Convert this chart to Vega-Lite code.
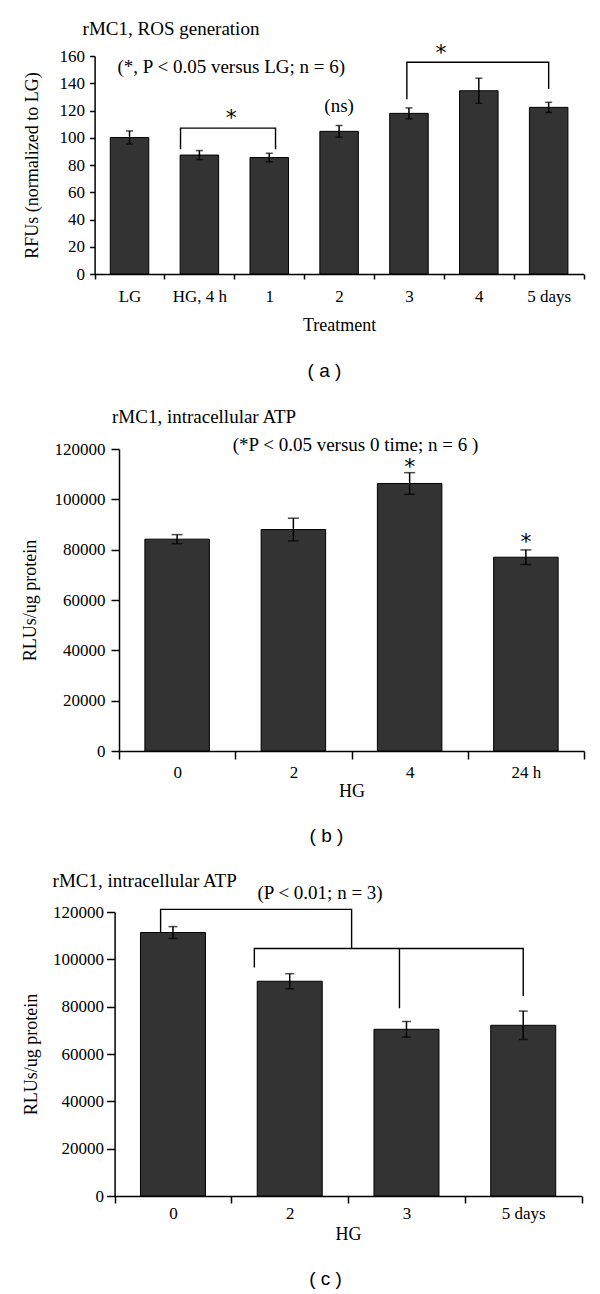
{
  "$schema": "https://vega.github.io/schema/vega-lite/v6.json",
  "padding": {"left": 21, "top": 20, "right": 5, "bottom": 5},
  "columns": 1,
  "spacing": 26,
  "resolve": {"scale": {"xOffset": "independent", "x": "independent", "y": "independent"}},
  "config": {
    "font": "Liberation Serif",
    "view": {"stroke": null},
    "axis": {"domainColor": "black", "tickColor": "black", "labelColor": "black", "titleColor": "black", "labelFont": "Liberation Serif", "titleFont": "Liberation Serif", "labelFontSize": 17, "titleFontSize": 18, "titleFontWeight": "normal", "grid": false, "domainWidth": 1.5, "tickWidth": 1.5, "labelOverlap": false, "labelSeparation": 0},
    "axisY": {"labelOverlap": false},
    "axisQuantitative": {"labelOverlap": false},
    "title": {"font": "Liberation Sans", "fontSize": 19, "fontWeight": "normal", "color": "black", "orient": "bottom", "offset": 31},
    "text": {"font": "Liberation Serif", "fontSize": 19, "color": "black"}
  },
  "concat": [
    {
      "width": 465, "height": 218,
      "title": {"text": "( a )", "dx": -27, "offset": 28},
      "layer": [
        {
          "data": {"values": [
            {"t": "LG", "m": 100.2, "e": 4.8},
            {"t": "HG, 4 h", "m": 87.3, "e": 3.3},
            {"t": "1", "m": 85.5, "e": 3.1},
            {"t": "2", "m": 104.7, "e": 4.3},
            {"t": "3", "m": 117.9, "e": 4.0},
            {"t": "4", "m": 134.5, "e": 9.2},
            {"t": "5 days", "m": 122.3, "e": 3.7}
          ]},
          "layer": [
            {
              "mark": {"type": "bar", "width": 38.5, "fill": "#333333", "stroke": "#000000", "strokeWidth": 1},
              "encoding": {
                "x": {"field": "t", "type": "nominal", "title": "Treatment",
                  "scale": {"domain": ["LG", "HG, 4 h", "1", "2", "3", "4", "5 days"], "range": [-24.4, 464.6], "paddingInner": 0, "paddingOuter": 0},
                  "axis": {"labelAngle": 0, "tickBand": "extent", "tickSize": 5, "labelPadding": 9, "titlePadding": 12}},
                "y": {"field": "m", "type": "quantitative", "title": "RFUs (normalized to LG)",
                  "scale": {"domain": [0, 160], "nice": false},
                  "axis": {"tickCount": 9, "values": [0, 20, 40, 60, 80, 100, 120, 140, 160], "labelOverlap": false, "labelSeparation": 0, "offset": 24.4, "tickSize": 5, "labelPadding": 5, "titlePadding": 18}}
              }
            },
            {
              "mark": {"type": "errorbar", "color": "black", "thickness": 1.5, "ticks": {"size": 7, "thickness": 1.5, "color": "black"}},
              "encoding": {
                "x": {"field": "t", "type": "nominal", "title": "Treatment"},
                "y": {"field": "m", "type": "quantitative", "title": "RFUs (normalized to LG)",
                  "axis": {"tickCount": 9, "values": [0, 20, 40, 60, 80, 100, 120, 140, 160], "labelOverlap": false, "labelSeparation": 0, "offset": 24.4, "tickSize": 5, "labelPadding": 5, "titlePadding": 18}},
                "yError": {"field": "e"}
              }
            }
          ]
        },
        {
          "data": {"values": [
            {"s": "b1", "i": 1, "t": "HG, 4 h", "f": 0.23, "v": 91.6},
            {"s": "b1", "i": 2, "t": "HG, 4 h", "f": 0.23, "v": 107.1},
            {"s": "b1", "i": 3, "t": "1", "f": 0.59, "v": 107.1},
            {"s": "b1", "i": 4, "t": "1", "f": 0.59, "v": 91.6},
            {"s": "b2", "i": 1, "t": "3", "f": 0.47, "v": 128.2},
            {"s": "b2", "i": 2, "t": "3", "f": 0.47, "v": 155.4},
            {"s": "b2", "i": 3, "t": "5 days", "f": 0.5, "v": 155.4},
            {"s": "b2", "i": 4, "t": "5 days", "f": 0.5, "v": 135.7}
          ]},
          "mark": {"type": "line", "color": "black", "strokeWidth": 1.4, "interpolate": "linear"},
          "encoding": {
            "x": {"field": "t", "type": "nominal", "title": "Treatment"},
            "xOffset": {"field": "f", "type": "quantitative", "scale": {"domain": [0, 1], "range": [0, 69.857], "nice": false, "zero": false}},
            "y": {"field": "v", "type": "quantitative", "title": "RFUs (normalized to LG)",
              "axis": {"tickCount": 9, "values": [0, 20, 40, 60, 80, 100, 120, 140, 160], "labelOverlap": false, "labelSeparation": 0, "offset": 24.4, "tickSize": 5, "labelPadding": 5, "titlePadding": 18}},
            "detail": {"field": "s"},
            "order": {"field": "i"}
          }
        },
        {
          "data": {"values": [
            {"t": "LG", "v": 179.8, "label": "rMC1, ROS generation"}
          ]},
          "mark": {"type": "text", "align": "left", "baseline": "middle", "dx": -12},
          "encoding": {
            "x": {"field": "t", "type": "nominal", "title": "Treatment", "bandPosition": 0},
            "y": {"field": "v", "type": "quantitative", "title": "RFUs (normalized to LG)",
              "axis": {"tickCount": 9, "values": [0, 20, 40, 60, 80, 100, 120, 140, 160], "labelOverlap": false, "labelSeparation": 0, "offset": 24.4, "tickSize": 5, "labelPadding": 5, "titlePadding": 18}},
            "text": {"field": "label"}
          }
        },
        {
          "data": {"values": [
            {"t": "1", "v": 151.7, "label": "(*, P < 0.05 versus LG; n = 6)"}
          ]},
          "mark": {"type": "text", "align": "center", "baseline": "middle", "dx": -3},
          "encoding": {
            "x": {"field": "t", "type": "nominal", "title": "Treatment", "bandPosition": 0},
            "y": {"field": "v", "type": "quantitative", "title": "RFUs (normalized to LG)",
              "axis": {"tickCount": 9, "values": [0, 20, 40, 60, 80, 100, 120, 140, 160], "labelOverlap": false, "labelSeparation": 0, "offset": 24.4, "tickSize": 5, "labelPadding": 5, "titlePadding": 18}},
            "text": {"field": "label"}
          }
        },
        {
          "data": {"values": [
            {"t": "2", "v": 123.5, "label": "(ns)"}
          ]},
          "mark": {"type": "text", "align": "center", "baseline": "middle"},
          "encoding": {
            "x": {"field": "t", "type": "nominal", "title": "Treatment"},
            "y": {"field": "v", "type": "quantitative", "title": "RFUs (normalized to LG)",
              "axis": {"tickCount": 9, "values": [0, 20, 40, 60, 80, 100, 120, 140, 160], "labelOverlap": false, "labelSeparation": 0, "offset": 24.4, "tickSize": 5, "labelPadding": 5, "titlePadding": 18}},
            "text": {"field": "label"}
          }
        },
        {
          "data": {"values": [
            {"t": "1", "v": 114.5, "label": "*"},
            {"t": "4", "v": 162.5, "label": "*"}
          ]},
          "mark": {"type": "text", "align": "center", "baseline": "middle", "fontSize": 22, "font": "DejaVu Sans", "dx": -3},
          "encoding": {
            "x": {"field": "t", "type": "nominal", "title": "Treatment", "bandPosition": 0},
            "y": {"field": "v", "type": "quantitative", "title": "RFUs (normalized to LG)",
              "axis": {"tickCount": 9, "values": [0, 20, 40, 60, 80, 100, 120, 140, 160], "labelOverlap": false, "labelSeparation": 0, "offset": 24.4, "tickSize": 5, "labelPadding": 5, "titlePadding": 18}},
            "text": {"field": "label"}
          }
        }
      ]
    },
    {
      "width": 465, "height": 302,
      "title": {"text": "( b )", "dx": -25, "offset": 26.5},
      "layer": [
        {
          "data": {"values": [
            {"t": "0", "m": 84175, "e": 1800},
            {"t": "2", "m": 88000, "e": 4500},
            {"t": "4", "m": 106300, "e": 4300},
            {"t": "24 h", "m": 77000, "e": 2900}
          ]},
          "layer": [
            {
              "mark": {"type": "bar", "width": 64.5, "fill": "#333333", "stroke": "#000000", "strokeWidth": 1},
              "encoding": {
                "x": {"field": "t", "type": "nominal", "title": "HG",
                  "scale": {"domain": ["0", "2", "4", "24 h"], "paddingInner": 0, "paddingOuter": 0},
                  "axis": {"labelAngle": 0, "tickBand": "extent", "tickSize": 8, "labelPadding": 5, "titlePadding": 2}},
                "y": {"field": "m", "type": "quantitative", "title": "RLUs/ug protein",
                  "scale": {"domain": [0, 120000], "nice": false},
                  "axis": {"values": [0, 20000, 40000, 60000, 80000, 100000, 120000], "labelOverlap": false, "format": "d", "tickSize": 8, "labelPadding": 6, "titlePadding": 15}}
              }
            },
            {
              "mark": {"type": "errorbar", "color": "black", "thickness": 1.5, "ticks": {"size": 11, "thickness": 1.5, "color": "black"}},
              "encoding": {
                "x": {"field": "t", "type": "nominal", "title": "HG"},
                "y": {"field": "m", "type": "quantitative", "title": "RLUs/ug protein"},
                "yError": {"field": "e"}
              }
            }
          ]
        },
        {
          "data": {"values": [
            {"t": "0", "v": 132720, "label": "rMC1, intracellular ATP"}
          ]},
          "mark": {"type": "text", "align": "left", "baseline": "middle", "dx": -7},
          "encoding": {
            "x": {"field": "t", "type": "nominal", "title": "HG", "bandPosition": 0},
            "y": {"field": "v", "type": "quantitative", "title": "RLUs/ug protein"},
            "text": {"field": "label"}
          }
        },
        {
          "data": {"values": [
            {"t": "4", "v": 121550, "label": "(*P < 0.05 versus 0 time; n = 6 )"}
          ]},
          "mark": {"type": "text", "align": "center", "baseline": "middle", "dx": 4},
          "encoding": {
            "x": {"field": "t", "type": "nominal", "title": "HG", "bandPosition": 0},
            "y": {"field": "v", "type": "quantitative", "title": "RLUs/ug protein"},
            "text": {"field": "label"}
          }
        },
        {
          "data": {"values": [
            {"t": "4", "v": 113000, "label": "*"},
            {"t": "24 h", "v": 83000, "label": "*"}
          ]},
          "mark": {"type": "text", "align": "center", "baseline": "middle", "fontSize": 22, "font": "DejaVu Sans"},
          "encoding": {
            "x": {"field": "t", "type": "nominal", "title": "HG"},
            "y": {"field": "v", "type": "quantitative", "title": "RLUs/ug protein"},
            "text": {"field": "label"}
          }
        }
      ]
    },
    {
      "width": 463, "height": 284,
      "title": {"text": "( c )", "dx": -25, "offset": 26.5},
      "layer": [
        {
          "data": {"values": [
            {"t": "0", "m": 111330, "e": 2500},
            {"t": "2", "m": 90740, "e": 3200},
            {"t": "3", "m": 70440, "e": 3300},
            {"t": "5 days", "m": 72130, "e": 6000}
          ]},
          "layer": [
            {
              "mark": {"type": "bar", "width": 65, "fill": "#333333", "stroke": "#000000", "strokeWidth": 1},
              "encoding": {
                "x": {"field": "t", "type": "nominal", "title": "HG",
                  "scale": {"domain": ["0", "2", "3", "5 days"], "range": [-4.4, 462.6], "paddingInner": 0, "paddingOuter": 0},
                  "axis": {"labelAngle": 0, "tickBand": "extent", "tickSize": 7, "labelPadding": 2, "titlePadding": 4}},
                "y": {"field": "m", "type": "quantitative", "title": "RLUs/ug protein",
                  "scale": {"domain": [0, 120000], "nice": false},
                  "axis": {"values": [0, 20000, 40000, 60000, 80000, 100000, 120000], "labelOverlap": false, "format": "d", "offset": 4.4, "tickSize": 8, "labelPadding": 3, "titlePadding": 12}}
              }
            },
            {
              "mark": {"type": "errorbar", "color": "black", "thickness": 1.5, "ticks": {"size": 9, "thickness": 1.5, "color": "black"}},
              "encoding": {
                "x": {"field": "t", "type": "nominal", "title": "HG"},
                "y": {"field": "m", "type": "quantitative", "title": "RLUs/ug protein",
                  "axis": {"values": [0, 20000, 40000, 60000, 80000, 100000, 120000], "labelOverlap": false, "format": "d", "offset": 4.4, "tickSize": 8, "labelPadding": 3, "titlePadding": 12}},
                "yError": {"field": "e"}
              }
            }
          ]
        },
        {
          "data": {"values": [
            {"s": "c1", "i": 1, "t": "0", "f": 0.394, "v": 111600},
            {"s": "c1", "i": 2, "t": "0", "f": 0.394, "v": 121130},
            {"s": "c1", "i": 3, "t": "3", "f": 0.03, "v": 121130},
            {"s": "c1", "i": 4, "t": "3", "f": 0.03, "v": 104600},
            {"s": "c2", "i": 1, "t": "2", "f": 0.197, "v": 96530},
            {"s": "c2", "i": 2, "t": "2", "f": 0.197, "v": 104600},
            {"s": "c2", "i": 3, "t": "5 days", "f": 0.5, "v": 104600},
            {"s": "c2", "i": 4, "t": "5 days", "f": 0.5, "v": 84520},
            {"s": "c3", "i": 1, "t": "3", "f": 0.44, "v": 104600},
            {"s": "c3", "i": 2, "t": "3", "f": 0.44, "v": 79320}
          ]},
          "mark": {"type": "line", "color": "black", "strokeWidth": 1.4, "interpolate": "linear"},
          "encoding": {
            "x": {"field": "t", "type": "nominal", "title": "HG"},
            "xOffset": {"field": "f", "type": "quantitative", "scale": {"domain": [0, 1], "range": [0, 116.75], "nice": false, "zero": false}},
            "y": {"field": "v", "type": "quantitative", "title": "RLUs/ug protein"},
            "detail": {"field": "s"},
            "order": {"field": "i"}
          }
        },
        {
          "data": {"values": [
            {"t": "0", "v": 132980, "label": "rMC1, intracellular ATP"}
          ]},
          "mark": {"type": "text", "align": "left", "baseline": "middle", "dx": -62},
          "encoding": {
            "x": {"field": "t", "type": "nominal", "title": "HG", "bandPosition": 0},
            "y": {"field": "v", "type": "quantitative", "title": "RLUs/ug protein"},
            "text": {"field": "label"}
          }
        },
        {
          "data": {"values": [
            {"t": "2", "v": 127880, "label": "(P < 0.01; n = 3)"}
          ]},
          "mark": {"type": "text", "align": "center", "baseline": "middle"},
          "encoding": {
            "x": {"field": "t", "type": "nominal", "title": "HG", "bandPosition": 0.76},
            "y": {"field": "v", "type": "quantitative", "title": "RLUs/ug protein"},
            "text": {"field": "label"}
          }
        }
      ]
    }
  ]
}
